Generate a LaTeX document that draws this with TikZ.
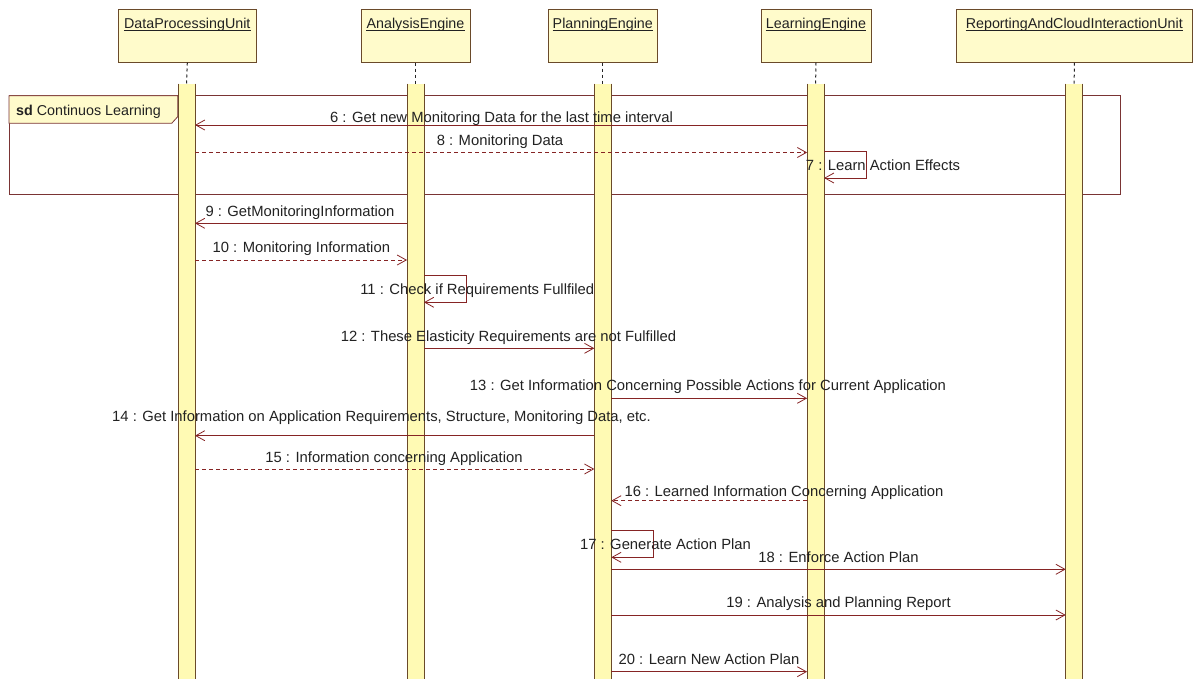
\documentclass[tikz,border=0pt]{standalone}
\usepackage{fontspec}
\setmainfont{Liberation Sans}
\usetikzlibrary{arrows.meta}
\definecolor{hdrfill}{HTML}{FFFBCB}
\definecolor{barfill}{HTML}{FFFAB4}
\definecolor{edgecol}{HTML}{6A4A2A}
\definecolor{msgcol}{HTML}{862424}
\definecolor{frmcol}{HTML}{7A3434}
\definecolor{txtcol}{HTML}{222222}
\begin{document}
\begin{tikzpicture}[x=1pt,y=-1pt,
  font=\fontsize{14.3}{16}\selectfont,
  hdr/.style={draw=edgecol, fill=hdrfill, line width=0.8pt, minimum height=52.7pt, anchor=north, inner sep=0pt},
  hdrtext/.style={inner sep=0pt, anchor=base, text=txtcol},
  barn/.style={fill=barfill, minimum width=16.6pt, minimum height=620pt, anchor=north, inner sep=0pt},
  baredge/.style={draw=edgecol, line width=0.8pt},
  lifeline/.style={draw=black!85, line width=1pt, dash pattern=on 3pt off 3pt},
  msgline/.style={draw=msgcol, line width=0.8pt, -{Straight Barb[length=9pt,width=10pt,line width=0.8pt]}},
  reply/.style={msgline, dash pattern=on 4pt off 3pt},
  lbl/.style={inner sep=0pt, anchor=base, text=txtcol, font=\fontsize{14.8}{16}\selectfont}]
\useasboundingbox (0,0) rectangle (1194,678);
\clip (0,0) rectangle (1194,678);
\fill[white] (0,0) rectangle (1194,678);

% frame
\draw[frmcol, line width=0.8pt] (9,95.7) rectangle (1120,194.3);
\draw[frmcol, line width=0.8pt, fill=hdrfill] (9,95.7) -- (177.7,95.7) -- (177.7,116.7) -- (171.7,123.3) -- (9,123.3) -- cycle;
\node[inner sep=0pt, anchor=base west, text=txtcol] (sdlabel) at (16,115.5) {\textbf{sd} Continuos Learning};

% headers
\node[hdr, minimum width=137.5pt] (hDPU) at (187.3,9) {};
\node[hdr, minimum width=109pt] (hAE) at (415.5,9) {};
\node[hdr, minimum width=109.7pt] (hPE) at (602.8,9) {};
\node[hdr, minimum width=110pt] (hLE) at (816,9) {};
\node[hdr, minimum width=235.3pt] (hRC) at (1074.3,9) {};
\node[hdrtext] (tDPU) at (187.3,28.3) {DataProcessingUnit};
\node[hdrtext] (tAE) at (415.5,28.3) {AnalysisEngine};
\node[hdrtext] (tPE) at (602.8,28.3) {PlanningEngine};
\node[hdrtext] (tLE) at (816,28.3) {LearningEngine};
\node[hdrtext] (tRC) at (1074.3,28.3) {ReportingAndCloudInteractionUnit};
\foreach \t in {tDPU,tAE,tPE,tLE,tRC}{
  \draw[txtcol, line width=0.6pt] ([yshift=-2.4pt]\t.base west) -- ([yshift=-2.4pt]\t.base east);
}

% bars
\node[barn] (bDPU) at (186.5,83.5) {};
\node[barn] (bAE) at (415.5,83.5) {};
\node[barn] (bPE) at (602.8,83.5) {};
\node[barn] (bLE) at (815.6,83.5) {};
\node[barn] (bRC) at (1074.2,83.5) {};
\foreach \b/\h in {bDPU/hDPU,bAE/hAE,bPE/hPE,bLE/hLE,bRC/hRC}{
  \draw[lifeline] (\h.south) -- (\b.north);
  \draw[baredge] (\b.north west) -- (\b.south west) (\b.north east) -- (\b.south east);
}

% message rows
\coordinate (y6) at (0,125);
\coordinate (y8) at (0,152.5);
\coordinate (y7a) at (0,151);
\coordinate (y7b) at (0,178);
\coordinate (y9) at (0,223.3);
\coordinate (y10) at (0,260);
\coordinate (y11a) at (0,275);
\coordinate (y11b) at (0,302.3);
\coordinate (y12) at (0,348.3);
\coordinate (y13) at (0,398.3);
\coordinate (y14) at (0,435.7);
\coordinate (y15) at (0,469);
\coordinate (y16) at (0,500.7);
\coordinate (y17a) at (0,530);
\coordinate (y17b) at (0,557.3);
\coordinate (y18) at (0,569.3);
\coordinate (y19) at (0,615);
\coordinate (y20) at (0,671.7);

\draw[msgline] (bLE.west |- y6) -- (bDPU.east |- y6);
\draw[reply] (bDPU.east |- y8) -- (bLE.west |- y8);
\draw[msgline] (bLE.east |- y7a) -- ++(42,0) -- ++(0,27) -- (bLE.east |- y7b);
\draw[msgline] (bAE.west |- y9) -- (bDPU.east |- y9);
\draw[reply] (bDPU.east |- y10) -- (bAE.west |- y10);
\draw[msgline] (bAE.east |- y11a) -- ++(42,0) -- ++(0,27.3) -- (bAE.east |- y11b);
\draw[msgline] (bAE.east |- y12) -- (bPE.west |- y12);
\draw[msgline] (bPE.east |- y13) -- (bLE.west |- y13);
\draw[msgline] (bPE.west |- y14) -- (bDPU.east |- y14);
\draw[reply] (bDPU.east |- y15) -- (bPE.west |- y15);
\draw[reply] (bLE.west |- y16) -- (bPE.east |- y16);
\draw[msgline] (bPE.east |- y17a) -- ++(42,0) -- ++(0,27.3) -- (bPE.east |- y17b);
\draw[msgline] (bPE.east |- y18) -- (bRC.west |- y18);
\draw[msgline] (bPE.east |- y19) -- (bRC.west |- y19);
\draw[msgline] (bPE.east |- y20) -- (bLE.west |- y20);

% labels
\node[lbl] (l6) at (501.5,122) {6 : Get new Monitoring Data for the last time interval};
\node[lbl] (l8) at (500,145) {8 : Monitoring Data};
\node[lbl] (l7) at (883,170.7) {7 : Learn Action Effects};
\node[lbl] (l9) at (300,216.7) {9 : GetMonitoringInformation};
\node[lbl] (l10) at (301.3,252.5) {10 : Monitoring Information};
\node[lbl] (l11) at (477.3,294.3) {11 : Check if Requirements Fullfiled};
\node[lbl] (l12) at (508.5,341.7) {12 : These Elasticity Requirements are not Fulfilled};
\node[lbl] (l13) at (708,390) {13 : Get Information Concerning Possible Actions for Current Application};
\node[lbl] (l14) at (381.5,421) {14 : Get Information on Application Requirements, Structure, Monitoring Data, etc.};
\node[lbl] (l15) at (394,462.3) {15 : Information concerning Application};
\node[lbl] (l16) at (784,496.7) {16 : Learned Information Concerning Application};
\node[lbl] (l17) at (665.5,549.3) {17 : Generate Action Plan};
\node[lbl] (l18) at (838.5,562.3) {18 : Enforce Action Plan};
\node[lbl] (l19) at (838.6,607.3) {19 : Analysis and Planning Report};
\node[lbl] (l20) at (709,664.3) {20 : Learn New Action Plan};
\end{tikzpicture}
\end{document}
